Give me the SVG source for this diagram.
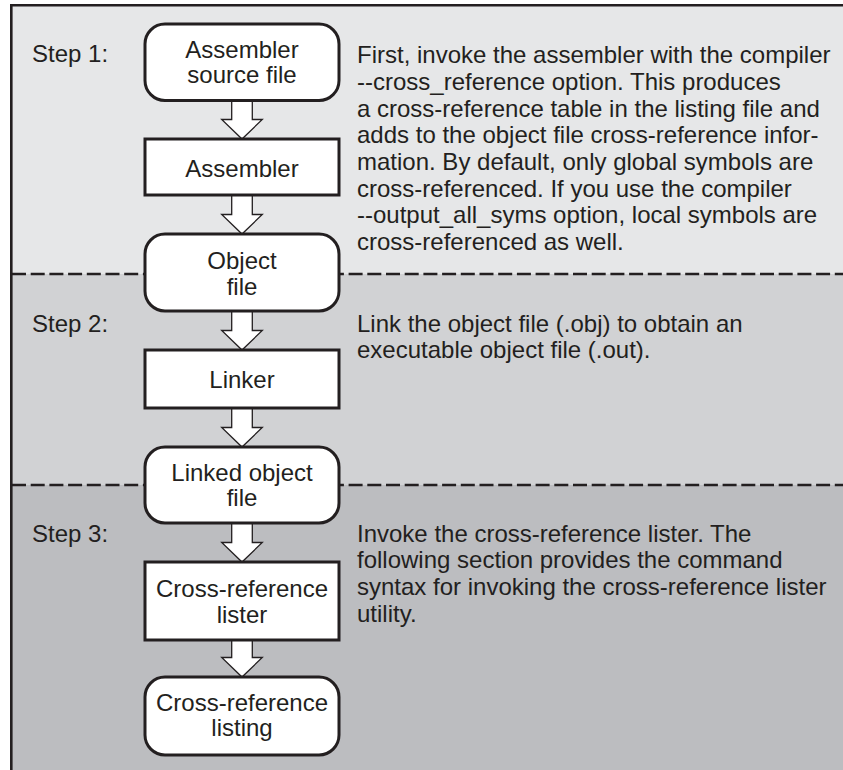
<svg xmlns="http://www.w3.org/2000/svg" width="843" height="770" viewBox="0 0 843 770">
<style>
text{font-family:"Liberation Sans",Arial,Helvetica,sans-serif;font-size:24px;fill:#231f20}
.c{text-anchor:middle}
.box{fill:#ffffff;stroke:#231f20;stroke-width:3}
.arr{fill:#ffffff;stroke:#231f20;stroke-width:1.3;stroke-linejoin:miter}
.dash{stroke:#231f20;stroke-width:2.3;stroke-dasharray:14 4.7;fill:none}
.frame{stroke:#231f20;stroke-width:2.6;fill:none}
</style>
<rect x="0" y="0" width="843" height="770" fill="#ffffff"/>
<g id="bands">
<rect x="11" y="5" width="832" height="269" fill="#e6e7e8"/>
<rect x="11" y="274" width="832" height="211" fill="#d1d2d4"/>
<rect x="11" y="485" width="832" height="285" fill="#bcbdc0"/>
<line class="dash" x1="12" y1="274" x2="843" y2="274"/>
<line class="dash" x1="12" y1="485" x2="843" y2="485"/>
<polyline class="frame" points="11.3,770 11.3,5.3 843,5.3"/>
</g>
<g id="labels">
<text x="32" y="62">Step 1:</text>
<text x="32" y="332">Step 2:</text>
<text x="32" y="542">Step 3:</text>
<text x="357" y="63.3">First, invoke the assembler with the compiler</text>
<text x="357" y="90">--cross_reference option. This produces</text>
<text x="357" y="116.7">a cross-reference table in the listing file and</text>
<text x="357" y="143.3">adds to the object file cross-reference infor-</text>
<text x="357" y="170">mation. By default, only global symbols are</text>
<text x="357" y="196.7">cross-referenced. If you use the compiler</text>
<text x="357" y="223.3">--output_all_syms option, local symbols are</text>
<text x="357" y="250">cross-referenced as well.</text>
<text x="357" y="331.7">Link the object file (.obj) to obtain an</text>
<text x="357" y="358.3">executable object file (.out).</text>
<text x="357" y="541.7">Invoke the cross-reference lister. The</text>
<text x="357" y="568.3">following section provides the command</text>
<text x="357" y="595">syntax for invoking the cross-reference lister</text>
<text x="357" y="621.7">utility.</text>
</g>
<g id="connectors">
<polygon class="arr" points="231.7,100.5 252.3,100.5 252.3,119.5 262.3,119.5 242,139 221.7,119.5 231.7,119.5"/>
<polygon class="arr" points="231.7,195 252.3,195 252.3,214.5 262.3,214.5 242,234 221.7,214.5 231.7,214.5"/>
<polygon class="arr" points="231.7,311 252.3,311 252.3,330.5 262.3,330.5 242,350 221.7,330.5 231.7,330.5"/>
<polygon class="arr" points="231.7,408 252.3,408 252.3,427.5 262.3,427.5 242,447 221.7,427.5 231.7,427.5"/>
<polygon class="arr" points="231.7,523 252.3,523 252.3,542.5 262.3,542.5 242,562 221.7,542.5 231.7,542.5"/>
<polygon class="arr" points="231.7,640 252.3,640 252.3,657.5 262.3,657.5 242,677 221.7,657.5 231.7,657.5"/>
</g>
<g id="node-asm-source">
<rect class="box" x="145" y="24" width="194" height="76.5" rx="20"/>
<text class="c" x="242" y="58.3">Assembler</text>
<text class="c" x="242" y="83.3">source file</text>
</g>
<g id="node-assembler">
<rect class="box" x="145" y="139" width="194" height="56"/>
<text class="c" x="242" y="176.7">Assembler</text>
</g>
<g id="node-object-file">
<rect class="box" x="145" y="234" width="194" height="77" rx="20"/>
<text class="c" x="242" y="269.3">Object</text>
<text class="c" x="242" y="295">file</text>
</g>
<g id="node-linker">
<rect class="box" x="145" y="350" width="194" height="58"/>
<text class="c" x="242" y="387.7">Linker</text>
</g>
<g id="node-linked-object">
<rect class="box" x="145" y="447" width="194" height="76" rx="20"/>
<text class="c" x="242" y="480.5">Linked object</text>
<text class="c" x="242" y="505.5">file</text>
</g>
<g id="node-xref-lister">
<rect class="box" x="145" y="562" width="194" height="78"/>
<text class="c" x="242" y="596.7">Cross-reference</text>
<text class="c" x="242" y="622.7">lister</text>
</g>
<g id="node-xref-listing">
<rect class="box" x="145" y="677" width="194" height="78" rx="20"/>
<text class="c" x="242" y="710.7">Cross-reference</text>
<text class="c" x="242" y="736">listing</text>
</g>
</svg>
